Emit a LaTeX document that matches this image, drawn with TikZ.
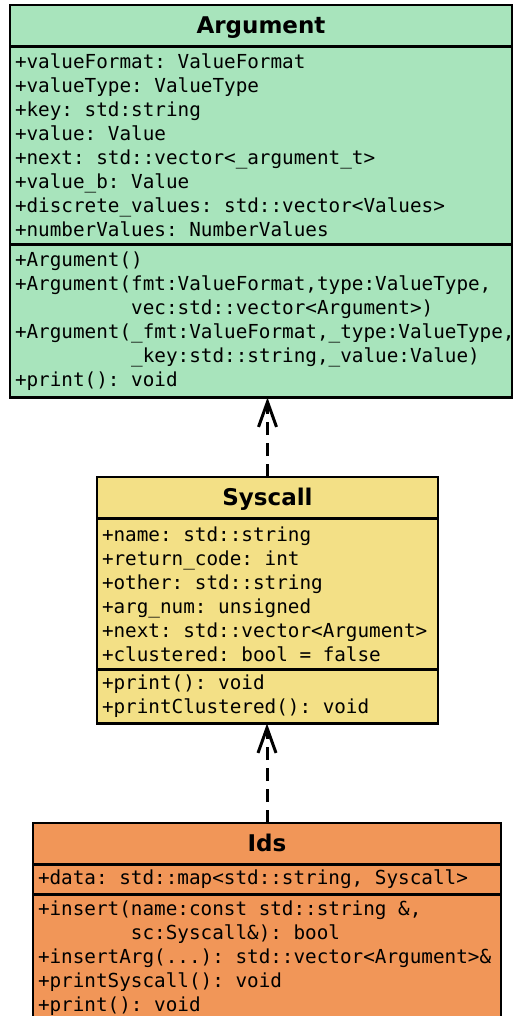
\documentclass[tikz,border=0pt]{standalone}
\usepackage{fontspec}
\setmainfont{DejaVu Sans}
\setmonofont{DejaVu Sans Mono}
\usetikzlibrary{positioning,arrows.meta}
\definecolor{argfill}{RGB}{168,228,188}
\definecolor{sysfill}{RGB}{243,224,134}
\definecolor{idsfill}{RGB}{241,150,88}
\tikzset{
    classtitle/.style={draw, line width=2.8pt, outer sep=0pt, inner sep=0pt,
        minimum height=41.5pt, text height=16pt, text depth=0pt,
        font=\fontsize{23}{28}\selectfont\bfseries},
    members/.style={draw, line width=2.8pt, outer sep=0pt, inner xsep=5pt,
        inner ysep=0pt, align=left, font=\fontsize{19.3}{24}\selectfont\ttfamily,
        execute at begin node={\spaceskip=0.602em\xspaceskip=0.602em\relax}},
    realize/.style={line width=3pt, dash pattern=on 13pt off 8pt,
        -{Straight Barb[length=25pt,width=18pt]}}
}

\begin{document}
\begin{tikzpicture}[x=1pt,y=-1pt]
      \useasboundingbox (0,0) rectangle (513,1016);
      \clip (0,0) rectangle (513,1016);
      % Argument
      \node[classtitle, fill=argfill, minimum width=502pt, anchor=north] (argTitle) at (261,5) {Argument};
      \node[members, fill=argfill, text width=492pt, minimum height=198pt, below=0pt of argTitle] (argAttr)
        {+valueFormat: ValueFormat\\+valueType: ValueType\\+key: std:string\\+value: Value\\
         +next: std::vector<\_argument\_t>\\+value\_b: Value\\
         +discrete\_values: std::vector<Values>\\+numberValues: NumberValues};
      \node[members, fill=argfill, text width=492pt, minimum height=153pt, below=0pt of argAttr] (argOps)
        {+Argument()\\+Argument(fmt:ValueFormat,type:ValueType,\\
         \phantom{+Argument(}vec:std::vector<Argument>)\\
         +Argument(\_fmt:ValueFormat,\_type:ValueType,\\
         \phantom{+Argument(}\_key:std::string,\_value:Value)\\+print(): void};
      % Syscall
      \node[classtitle, fill=sysfill, minimum width=341pt, anchor=north] (sysTitle) at (267.5,477) {Syscall};
      \node[members, fill=sysfill, text width=331pt, minimum height=151pt, below=0pt of sysTitle] (sysAttr)
        {+name: std::string\\+return\_code: int\\+other: std::string\\+arg\_num: unsigned\\
         +next: std::vector<Argument>\\+clustered: bool = false};
      \node[members, fill=sysfill, text width=331pt, minimum height=54pt, below=0pt of sysAttr] (sysOps)
        {+print(): void\\+printClustered(): void};
      % Ids
      \node[classtitle, fill=idsfill, minimum width=468pt, anchor=north] (idsTitle) at (267,823) {Ids};
      \node[members, fill=idsfill, text width=458pt, minimum height=30pt, below=0pt of idsTitle] (idsAttr)
        {+data: std::map<std::string, Syscall>};
      \node[members, fill=idsfill, text width=458pt, minimum height=127pt, below=0pt of idsAttr] (idsOps)
        {+insert(name:const std::string \&,\\\phantom{+insert(}sc:Syscall\&): bool\\
         +insertArg(...): std::vector<Argument>\&\\+printSyscall(): void\\+print(): void};
      % arrows
      \draw[realize] (sysTitle.north) -- (sysTitle.north |- argOps.south);
      \draw[realize] (idsTitle.north) -- (idsTitle.north |- sysOps.south);
\end{tikzpicture}
\end{document}
